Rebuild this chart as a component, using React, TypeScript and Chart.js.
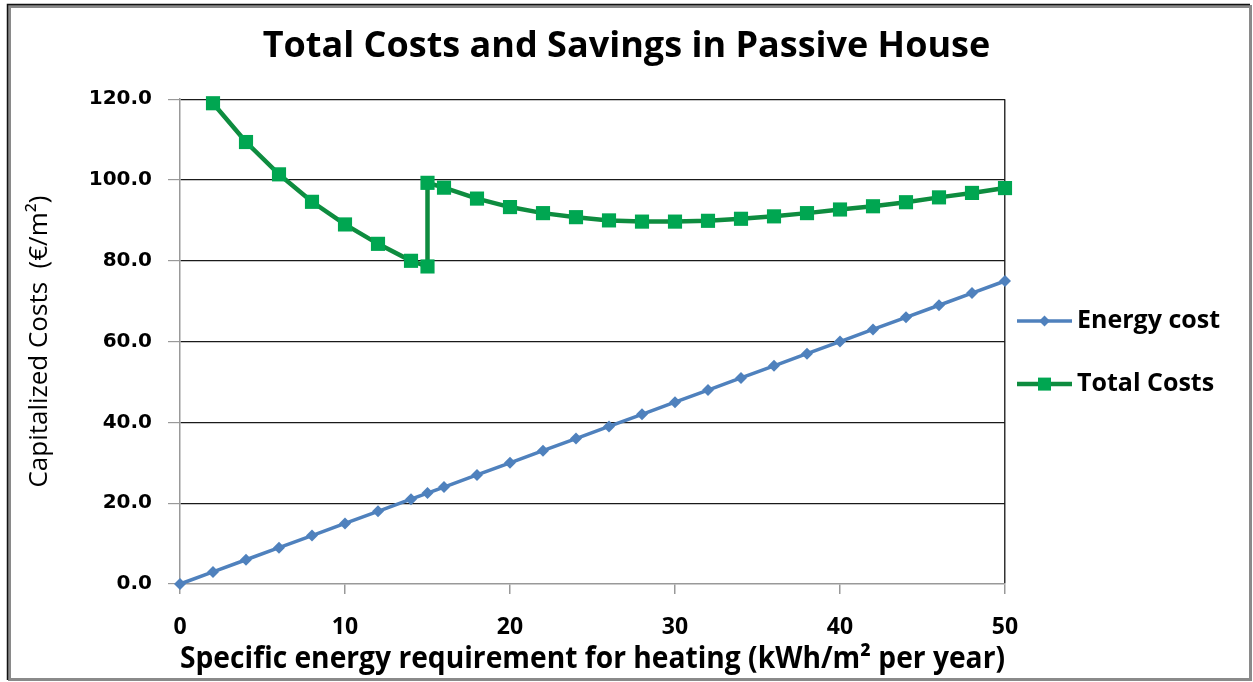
import React, { useEffect, useRef } from "react";
import { Chart, registerables } from "chart.js";

Chart.register(...registerables);

const TITLE = "Total Costs and Savings in Passive House";
const X_TITLE = "Specific energy requirement for heating (kWh/m² per year)";
const Y_TITLE = "Capitalized Costs  (€/m²)";

const energyLabel = "Energy cost";
const energyX = [0, 2, 4, 6, 8, 10, 12, 14, 15, 16, 18, 20, 22, 24, 26, 28, 30, 32, 34, 36, 38, 40, 42, 44, 46, 48, 50];
const energyY = [0, 3, 6, 9, 12, 15, 18, 21, 22.5, 24, 27, 30, 33, 36, 39, 42, 45, 48, 51, 54, 57, 60, 63, 66, 69, 72, 75];

const totalLabel = "Total Costs";
const totalX = [2, 4, 6, 8, 10, 12, 14, 15, 15, 16, 18, 20, 22, 24, 26, 28, 30, 32, 34, 36, 38, 40, 42, 44, 46, 48, 50];
const totalY = [119.0, 109.4, 101.4, 94.6, 89.0, 84.2, 80.0, 78.6, 99.3, 98.1, 95.4, 93.3, 91.8, 90.8, 90.0, 89.7, 89.7, 89.9, 90.4, 91.0, 91.8, 92.7, 93.5, 94.5, 95.7, 96.8, 98.0];

const xTicks = [0, 10, 20, 30, 40, 50];
const yTicks = [0, 20, 40, 60, 80, 100, 120];

const BLUE = "#4F81BD";
const GREEN_LINE = "#0E8C3F";
const GREEN_MARK = "#00A651";

const framePlugin = {
  id: "frame",
  beforeDraw(chart: any) {
    const { ctx, width, height } = chart;
    ctx.save();
    ctx.fillStyle = "#ffffff";
    ctx.fillRect(0, 0, width, height);
    ctx.strokeStyle = "#8a8a8a";
    ctx.lineWidth = 3;
    ctx.strokeRect(9.5, 6.5, width - 12, height - 9);
    ctx.strokeStyle = "#111111";
    ctx.lineWidth = 1.5;
    ctx.beginPath();
    ctx.moveTo(7.5, height - 2);
    ctx.lineTo(7.5, 4.5);
    ctx.lineTo(width - 3, 4.5);
    ctx.stroke();
    ctx.restore();
  },
};

const legendPlugin = {
  id: "customLegend",
  afterDraw(chart: any) {
    const { ctx, chartArea } = chart;
    const x0 = chartArea.right + 12;
    const lineLen = 55;
    const mid = (chartArea.top + chartArea.bottom) / 2 + 11;
    const rows = [mid - 31.5, mid + 31.5];
    ctx.save();
    chart.data.datasets.forEach((ds: any, i: number) => {
      const y = rows[i];
      ctx.strokeStyle = ds.borderColor;
      ctx.lineWidth = ds.borderWidth;
      ctx.beginPath();
      ctx.moveTo(x0, y);
      ctx.lineTo(x0 + lineLen, y);
      ctx.stroke();
      ctx.fillStyle = ds.pointBackgroundColor;
      const cx = x0 + lineLen / 2;
      if (ds.pointStyle === "rect") {
        ctx.fillRect(cx - 6.5, y - 6.5, 13, 13);
      } else {
        ctx.beginPath();
        ctx.moveTo(cx, y - 5.5);
        ctx.lineTo(cx + 5.5, y);
        ctx.lineTo(cx, y + 5.5);
        ctx.lineTo(cx - 5.5, y);
        ctx.closePath();
        ctx.fill();
      }
      ctx.fillStyle = "#000000";
      ctx.font = "bold 25px 'Open Sans'";
      ctx.textBaseline = "middle";
      ctx.textAlign = "left";
      ctx.fillText(ds.label, x0 + lineLen + 5, y);
    });
    ctx.restore();
  },
};

export default function App() {
  const ref = useRef<HTMLCanvasElement | null>(null);

  useEffect(() => {
    document.body.style.margin = "0";
    const canvas = ref.current;
    if (!canvas) return;
    const chart = new Chart(canvas, {
      type: "line",
      data: {
        datasets: [
          {
            label: energyLabel,
            data: energyX.map((x, i) => ({ x, y: energyY[i] })),
            borderColor: BLUE,
            backgroundColor: BLUE,
            pointBackgroundColor: BLUE,
            pointBorderColor: BLUE,
            borderWidth: 3.5,
            pointStyle: "rectRot",
            pointRadius: 6,
            pointBorderWidth: 0,
            clip: false,
            tension: 0,
            yAxisID: "y",
          },
          {
            label: totalLabel,
            data: totalX.map((x, i) => ({ x, y: totalY[i] })),
            borderColor: GREEN_LINE,
            backgroundColor: GREEN_MARK,
            pointBackgroundColor: GREEN_MARK,
            pointBorderColor: GREEN_MARK,
            borderWidth: 4.5,
            pointStyle: "rect",
            pointRadius: 10,
            pointBorderWidth: 0,
            clip: false,
            tension: 0,
            yAxisID: "y",
          },
        ],
      } as any,
      options: {
        responsive: false,
        animation: false,
        parsing: false as any,
        layout: { padding: 0 },
        plugins: {
          legend: { display: false },
          tooltip: { enabled: false },
          title: {
            display: true,
            text: TITLE,
            color: "#000000",
            font: { family: "'Open Sans'", size: 36, weight: "bold", lineHeight: 1.2 },
            padding: { top: 25, bottom: 31 },
          },
        },
        scales: {
          x: {
            type: "linear",
            min: 0,
            max: 50,
            afterBuildTicks: (scale: any) => {
              scale.ticks = xTicks.map((v) => ({ value: v }));
            },
            afterFit: (scale: any) => {
              scale.height = 98;
            },
            ticks: {
              color: "#000000",
              font: { family: "'Open Sans'", size: 23, weight: "bold" },
              padding: 20,
              maxRotation: 0,
            },
            grid: {
              color: (c: any) => (c.tick && c.tick.value === 50 ? "#333333" : "rgba(0,0,0,0)"),
              tickColor: "#999999",
              tickLength: 10,
              lineWidth: 1.5,
            },
            border: { color: "#999999", width: 1.5 },
            title: {
              display: true,
              text: X_TITLE,
              color: "#000000",
              font: { family: "'Open Sans'", size: 30, weight: "bold", lineHeight: 1.2 },
              padding: { top: 0, bottom: 5 },
            },
          },
          y: {
            type: "linear",
            position: "left",
            min: 0,
            max: 120,
            afterBuildTicks: (scale: any) => {
              scale.ticks = yTicks.map((v) => ({ value: v }));
            },
            afterFit: (scale: any) => {
              scale.width = 180;
            },
            ticks: {
              color: "#000000",
              font: { family: "'DejaVu Sans'", size: 20, weight: "bold" },
              padding: 16,
              callback: (v: any) => Number(v).toFixed(1),
            },
            grid: {
              color: (c: any) => (c.tick && c.tick.value === 0 ? "rgba(0,0,0,0)" : "#1a1a1a"),
              tickColor: "#999999",
              tickLength: 12,
              lineWidth: 1.2,
            },
            border: { color: "#999999", width: 1.5 },
            title: {
              display: true,
              text: Y_TITLE,
              color: "#000000",
              font: { family: "'Open Sans'", size: 26, weight: "500", lineHeight: 1.2 },
              padding: { top: 24, bottom: 0 },
            },
          },
          legendSpace: {
            type: "linear",
            position: "right",
            display: true,
            min: 0,
            max: 1,
            afterFit: (scale: any) => {
              scale.width = 248;
            },
            ticks: { display: false },
            grid: { display: false, drawTicks: false },
            border: { display: false },
            title: { display: false },
          },
        },
      } as any,
      plugins: [framePlugin, legendPlugin],
    });
    return () => chart.destroy();
  }, []);

  return (
    <div style={{ width: 1253, height: 682, position: "relative" }}>
      <canvas ref={ref} width={1253} height={682} style={{ display: "block" }} />
    </div>
  );
}
